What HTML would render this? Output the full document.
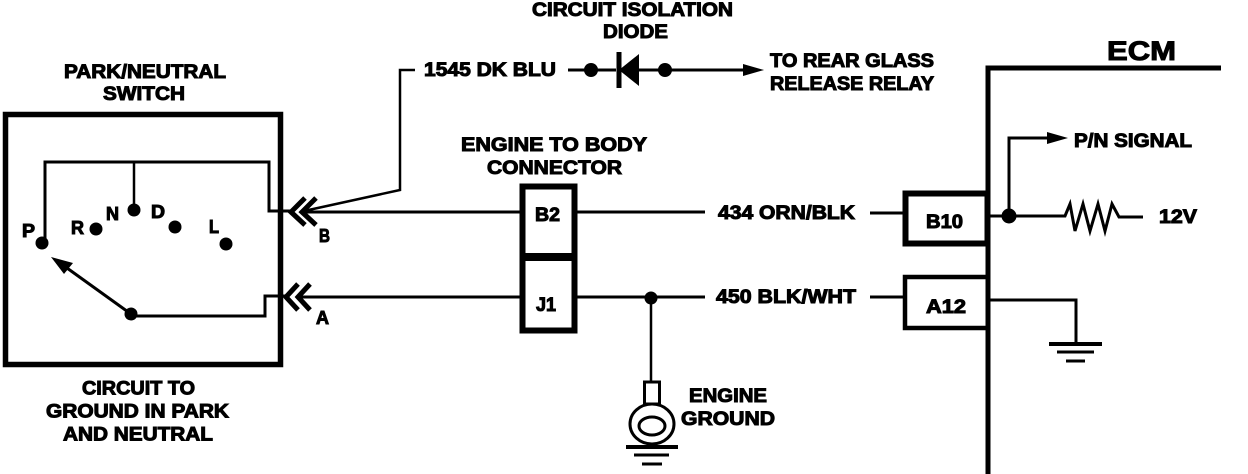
<!DOCTYPE html>
<html>
<head>
<meta charset="utf-8">
<style>
html,body{margin:0;padding:0;background:#fff;width:1248px;height:474px;overflow:hidden}
svg{display:block}
text{font-family:"Liberation Sans",sans-serif;font-weight:bold;font-size:19px;fill:#000;stroke:#000;stroke-width:1px}
.s{font-size:18px}
</style>
</head>
<body>
<svg width="1248" height="474" viewBox="0 0 1248 474" xmlns="http://www.w3.org/2000/svg">
<g fill="none" stroke="#000" stroke-width="3">
<rect x="5.5" y="114.5" width="275" height="250" stroke-width="5.5"/>
<path d="M45 242V162H269V211H292"/>
<path d="M134 162V210" stroke-width="2.5"/>
<path d="M131 314L60 263" stroke-width="3"/>
<path d="M131 316H265V296H288"/>
<path d="M305 198L291 212L305 225M316 198L302 212L316 225" stroke-width="5"/>
<path d="M298 284L286 297L298 310M310 284L298 297L310 310" stroke-width="5"/>
<path d="M304 211L400 190V70H415" stroke-width="2.5"/>
<path d="M304 212H520M577 212H705M870 213H903"/>
<path d="M300 297H520M577 297H705M870 297H903"/>
<path d="M651 297V381" stroke-width="2.5"/>
<path d="M568 70H616M639 70H748"/>
<rect x="522.5" y="186.5" width="52" height="144" stroke-width="6"/>
<path d="M520 257H577" stroke-width="8"/>
<path d="M988 474V68H1221" stroke-width="5"/>
<rect x="905.5" y="193.5" width="82" height="50" stroke-width="6"/>
<rect x="905" y="277" width="83" height="51" stroke-width="4.5"/>
<path d="M990 216H1064L1065 216L1070 204L1075 231L1083 204L1090 231L1098 204L1105 231L1112 204L1119 217H1143" stroke-width="3"/>
<path d="M1009 216V138H1050"/>
<path d="M990 300H1076V343" stroke-width="3"/>
<path d="M1049 344H1102" stroke-width="4"/>
<path d="M1057 352H1094" stroke-width="3"/>
<path d="M1066 361H1085" stroke-width="3"/>
<rect x="644.5" y="382" width="15" height="22" stroke-width="3"/>
<ellipse cx="652" cy="424" rx="22" ry="20" stroke-width="3"/>
<ellipse cx="652" cy="426" rx="13" ry="9"/>
<path d="M626 447H678" stroke-width="4"/>
<path d="M634 455H669" stroke-width="3"/>
<path d="M642 464H662" stroke-width="3"/>
<path d="M619 52V88" stroke-width="5"/>
</g>
<g fill="#000">
<circle cx="42" cy="243" r="6.5"/>
<circle cx="96" cy="229" r="6.5"/>
<circle cx="134" cy="210" r="6.5"/>
<circle cx="175" cy="227" r="6.5"/>
<circle cx="226" cy="244" r="6.5"/>
<circle cx="131" cy="314" r="6.5"/>
<circle cx="651" cy="298" r="6.5"/>
<circle cx="591" cy="70" r="7"/>
<circle cx="665" cy="70" r="7"/>
<circle cx="1009" cy="216" r="7.5"/>
<path d="M51 257L73 263L64 274Z"/>
<path d="M619 70L639 54V86Z"/>
<path d="M743 64L764 70L743 76Z"/>
<path d="M1047 132L1068 138L1047 144Z"/>
</g>
<text x="532" y="16" textLength="201" lengthAdjust="spacingAndGlyphs">CIRCUIT ISOLATION</text>
<text x="603" y="38" textLength="65" lengthAdjust="spacingAndGlyphs">DIODE</text>
<text x="64" y="78" textLength="162" lengthAdjust="spacingAndGlyphs">PARK/NEUTRAL</text>
<text x="103" y="100" textLength="82" lengthAdjust="spacingAndGlyphs">SWITCH</text>
<text x="424" y="76" textLength="132" lengthAdjust="spacingAndGlyphs">1545 DK BLU</text>
<text x="770" y="67" textLength="164" lengthAdjust="spacingAndGlyphs">TO REAR GLASS</text>
<text x="770" y="90" textLength="164" lengthAdjust="spacingAndGlyphs">RELEASE RELAY</text>
<text x="1107" y="60" textLength="69" lengthAdjust="spacingAndGlyphs" style="font-size:27px">ECM</text>
<text x="461" y="151" textLength="186" lengthAdjust="spacingAndGlyphs">ENGINE TO  BODY</text>
<text x="487" y="174" textLength="135" lengthAdjust="spacingAndGlyphs">CONNECTOR</text>
<text x="1074" y="147" textLength="118" lengthAdjust="spacingAndGlyphs">P/N SIGNAL</text>
<text x="1159" y="223" textLength="38" lengthAdjust="spacingAndGlyphs">12V</text>
<text x="926" y="228" textLength="37" lengthAdjust="spacingAndGlyphs">B10</text>
<text x="926" y="313" textLength="40" lengthAdjust="spacingAndGlyphs">A12</text>
<text x="535" y="221" textLength="25" lengthAdjust="spacingAndGlyphs">B2</text>
<text x="536" y="311" textLength="20" lengthAdjust="spacingAndGlyphs">J1</text>
<text x="718" y="219" textLength="137" lengthAdjust="spacingAndGlyphs">434 ORN/BLK</text>
<text x="716" y="303" textLength="140" lengthAdjust="spacingAndGlyphs">450 BLK/WHT</text>
<text x="689" y="402" textLength="78" lengthAdjust="spacingAndGlyphs">ENGINE</text>
<text x="681" y="425" textLength="94" lengthAdjust="spacingAndGlyphs">GROUND</text>
<text x="82" y="394.5" textLength="113" lengthAdjust="spacingAndGlyphs">CIRCUIT TO</text>
<text x="46" y="417.5" textLength="183" lengthAdjust="spacingAndGlyphs">GROUND IN PARK</text>
<text x="63" y="440.5" textLength="150" lengthAdjust="spacingAndGlyphs">AND NEUTRAL</text>
<text class="s" x="22" y="237" textLength="13" lengthAdjust="spacingAndGlyphs">P</text>
<text class="s" x="71" y="234" textLength="13" lengthAdjust="spacingAndGlyphs">R</text>
<text class="s" x="106" y="220" textLength="13" lengthAdjust="spacingAndGlyphs">N</text>
<text class="s" x="151" y="218" textLength="14" lengthAdjust="spacingAndGlyphs">D</text>
<text class="s" x="209" y="233" textLength="10" lengthAdjust="spacingAndGlyphs">L</text>
<text class="s" x="319" y="242" textLength="11" lengthAdjust="spacingAndGlyphs">B</text>
<text class="s" x="316" y="324" textLength="13" lengthAdjust="spacingAndGlyphs">A</text>
</svg>
</body>
</html>
